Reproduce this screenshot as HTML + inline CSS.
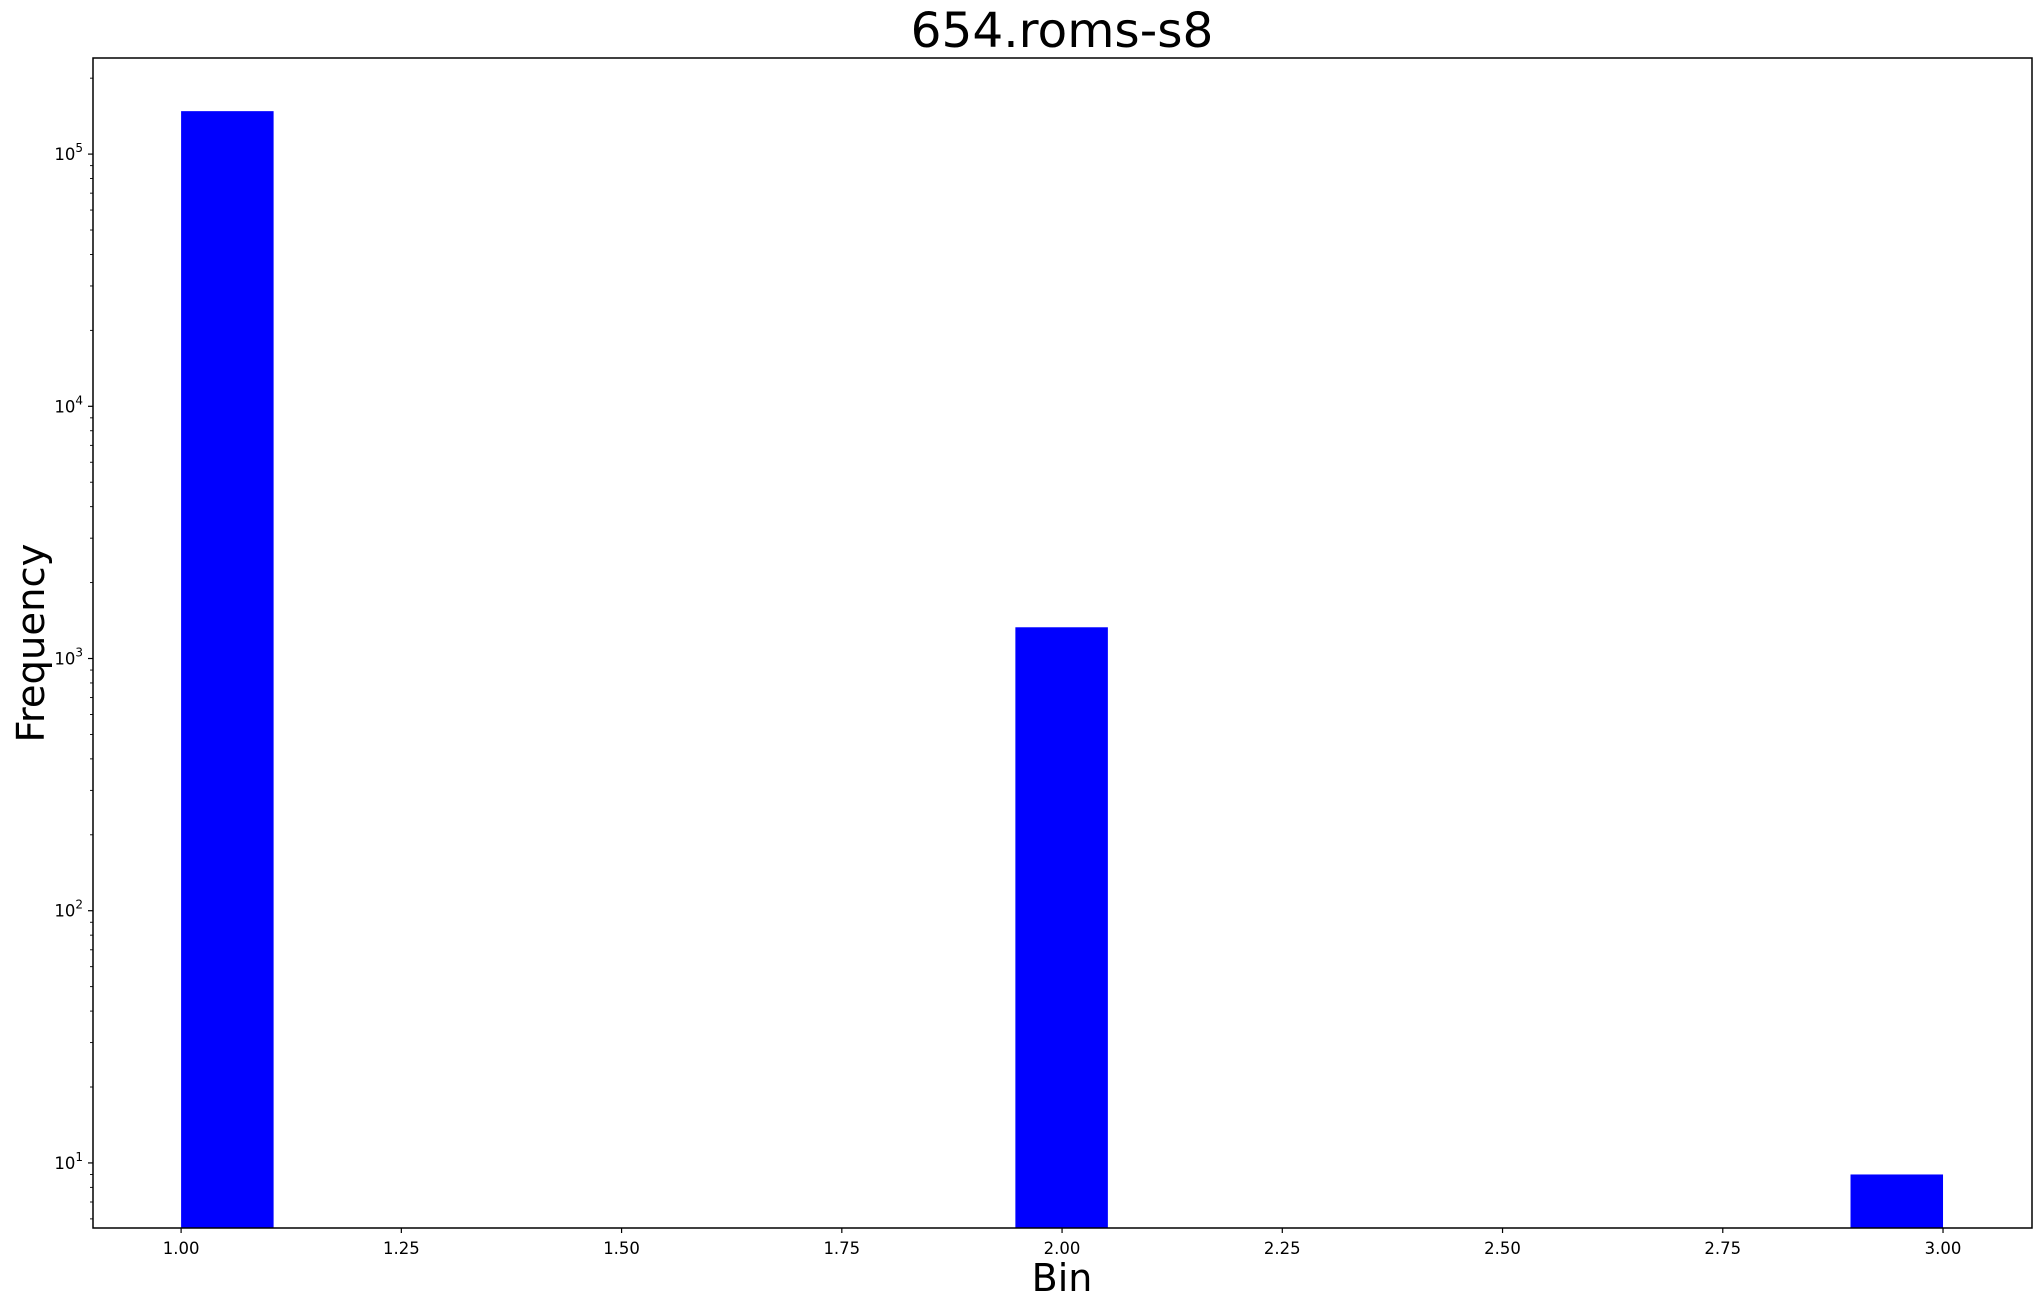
<!DOCTYPE html>
<html><head><meta charset="utf-8"><style>
html,body{margin:0;padding:0;background:#fff;}
svg{display:block;font-family:"DejaVu Sans","Liberation Sans",sans-serif;}
</style></head><body>
<svg id="chart" width="2040" height="1309" viewBox="0 0 2040 1309" xmlns="http://www.w3.org/2000/svg">
<rect width="2040" height="1309" fill="#fff"/>
<text x="1062" y="47" font-size="48.5" text-anchor="middle">654.roms-s8</text>
<g id="bars"></g>
<g id="yaxis"></g>
<g id="xaxis"></g>
<rect x="93" y="58" width="1939" height="1170" fill="none" stroke="#000" stroke-width="1.5"/>
<text x="1062" y="1291" font-size="38" text-anchor="middle">Bin</text>
<text transform="translate(44,643) rotate(-90)" font-size="38.5" text-anchor="middle">Frequency</text>
</svg>
<script>
const binStarts = [1.0, 1.947, 2.895];
const binCounts = [148000, 1330, 9];
const binWidth = 0.105;
const xTicks = [1.0, 1.25, 1.5, 1.75, 2.0, 2.25, 2.5, 2.75, 3.0];
const xTickLabels = ["1.00","1.25","1.50","1.75","2.00","2.25","2.50","2.75","3.00"];
const yDecades = [1, 2, 3, 4, 5];

const NS = "http://www.w3.org/2000/svg";
const X0 = 93, X1 = 2032, Y0 = 58, Y1 = 1228;
const xMin = 0.9, xMax = 3.101, lMin = 0.742, lMax = 5.381;
function xs(v){ return X0 + (v - xMin) / (xMax - xMin) * (X1 - X0); }
function ys(v){ return Y1 - (Math.log10(v) - lMin) / (lMax - lMin) * (Y1 - Y0); }
function mk(tag, attrs, parent){ const e = document.createElementNS(NS, tag); for (const k in attrs) e.setAttribute(k, attrs[k]); parent.appendChild(e); return e; }

const bars = document.getElementById('bars');
binStarts.forEach((s, i) => {
  const x = xs(s), w = xs(s + binWidth) - x, y = ys(binCounts[i]);
  const r = mk('rect', {x: x, y: y, width: w, height: Y1 - y, fill: '#0000ff'}, bars);
  
  
});

const xa = document.getElementById('xaxis');
xTicks.forEach((t, i) => {
  const x = xs(t);
  const l = mk('line', {x1: x, x2: x, y1: Y1, y2: Y1 + 5, stroke: '#000', 'stroke-width': 1.2}, xa);
  
  
  const tx = mk('text', {x: x, y: Y1 + 26, 'font-size': 16.5, 'text-anchor': 'middle'}, xa);
  tx.textContent = xTickLabels[i];
  
  
});

const ya = document.getElementById('yaxis');
for (let d = 0; d <= 5; d++) {
  for (let m = 1; m <= 9; m++) {
    const v = m * Math.pow(10, d);
    const lv = Math.log10(v);
    if (lv < lMin || lv > lMax) continue;
    const y = ys(v);
    const major = m === 1;
    const l = mk('line', {x1: X0 - (major ? 5 : 3), x2: X0, y1: y, y2: y, stroke: '#000', 'stroke-width': major ? 1.2 : 0.9}, ya);
    
    
  }
}
yDecades.forEach(d => {
  const y = ys(Math.pow(10, d));
  const t = mk('text', {x: X0 - 10, y: y + 6, 'font-size': 16.5, 'text-anchor': 'end'}, ya);
  
  
  const base = document.createElementNS(NS, 'tspan'); base.textContent = '10'; t.appendChild(base);
  const sup = document.createElementNS(NS, 'tspan'); sup.setAttribute('dy', '-8'); sup.setAttribute('font-size', '12'); sup.textContent = String(d); t.appendChild(sup);
});
</script>
</body></html>
